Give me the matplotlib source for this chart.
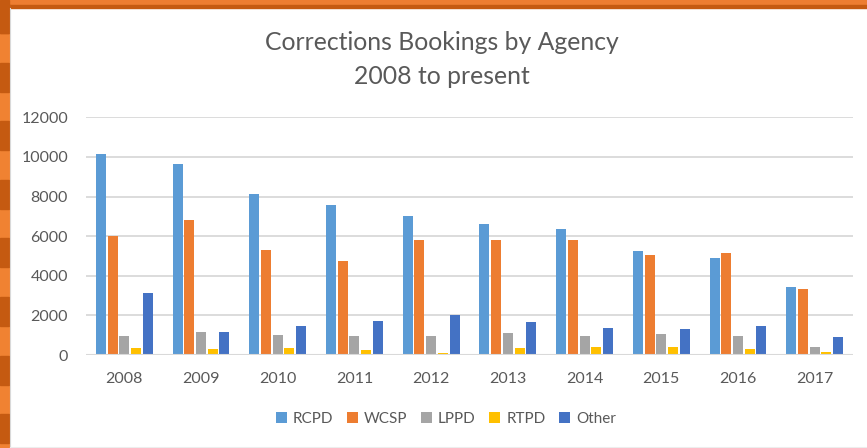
import numpy as np
import matplotlib
matplotlib.use("Agg")
import matplotlib.pyplot as plt
from matplotlib.patches import Rectangle

# ------------ Data -----------------
years = ["2008", "2009", "2010", "2011", "2012", "2013", "2014", "2015", "2016", "2017"]
agencies = ["RCPD", "WCSP", "LPPD", "RTPD", "Other"]

rcpd = [10150, 9630, 8150, 7560, 7020, 6600, 6380, 5240, 4880, 3450]
wcsp = [6030, 6840, 5300, 4750, 5810, 5810, 5790, 5030, 5130, 3330]
lppd = [980, 1150, 990, 980, 960, 1130, 980, 1080, 980, 420]
rtpd = [340, 290, 370, 250, 90, 340, 420, 400, 320, 170]
other = [3120, 1150, 1450, 1700, 2040, 1670, 1360, 1330, 1470, 890]

colors = ["#5B9BD5", "#ED7D31", "#A5A5A5", "#FFC000", "#4472C4"]
# -----------------------------------

TXT = "#595959"
plt.rcParams['font.family'] = ['Lato', 'DejaVu Sans']

fig = plt.figure(figsize=(8.67, 4.48), dpi=100)
W, H = 867, 448

# decorative orange frame (top band and striped left edge)
fig.patches.append(Rectangle((0, 1 - 5 / H), 1, 5 / H, transform=fig.transFigure,
                             color="#ED7D31", zorder=0))
fig.patches.append(Rectangle((0, 1 - 8 / H), 1, 3 / H, transform=fig.transFigure,
                             color="#C55A11", zorder=0))
fig.patches.append(Rectangle((0, 0), 9 / W, 1, transform=fig.transFigure,
                             color="#F08232", zorder=0))
for k in range(8):
    y0 = 4 + 58.6 * k
    fig.patches.append(Rectangle((0, 1 - (y0 + 29) / H), 9 / W, 29 / H,
                                 transform=fig.transFigure, color="#C55A11", zorder=0))
fig.patches.append(Rectangle((0, 1 - 33 / H), 9 / W, 33 / H,
                             transform=fig.transFigure, color="#C55A11", zorder=0))
fig.add_artist(plt.Line2D([9.5 / W, 9.5 / W], [0, 1 - 8 / H], transform=fig.transFigure,
                          color="#D9D9D9", lw=0.8))
fig.add_artist(plt.Line2D([9.5 / W, 1], [1.5 / H, 1.5 / H], transform=fig.transFigure,
                          color="#EDEDED", lw=0.8))

ax = fig.add_axes([86 / W, 1 - 355 / H, (853 - 86) / W, (355 - 117.3) / H])

x = np.arange(len(years))
slot = 0.1525
series = [rcpd, wcsp, lppd, rtpd, other]
for i, (name, vals) in enumerate(zip(agencies, series)):
    ax.bar(x + (i - 2) * slot, vals, width=0.13, color=colors[i], label=name, zorder=3)

ax.set_xlim(-0.5, len(years) - 0.5)
ax.set_ylim(0, 12000)
ax.set_yticks(range(0, 12001, 2000))
ax.set_xticks(x)
ax.set_xticklabels(years)
ax.yaxis.grid(True, color="#D9D9D9", lw=1.3, zorder=0)
ax.set_axisbelow(True)
for s in ax.spines.values():
    s.set_visible(False)
ax.axhline(0, color="#D9D9D9", lw=1.5, zorder=4)
ax.tick_params(axis="both", length=0, labelsize=11.5, labelcolor=TXT)
ax.tick_params(axis="y", pad=13)
ax.tick_params(axis="x", pad=12)

fig.text(442 / W, 1 - 43 / H, "Corrections Bookings by Agency", ha="center", va="center",
         fontsize=17.8, color=TXT)
fig.text(442 / W, 1 - 77 / H, "2008 to present", ha="center", va="center",
         fontsize=17.8, color=TXT)

fig.legend(loc="center", bbox_to_anchor=(446 / W, 1 - 419 / H), ncol=5, frameon=False,
           fontsize=11, labelcolor=TXT, handlelength=0.7, handleheight=0.7,
           handletextpad=0.4, columnspacing=0.9)

fig.savefig("out.png", dpi=100, facecolor="white")
